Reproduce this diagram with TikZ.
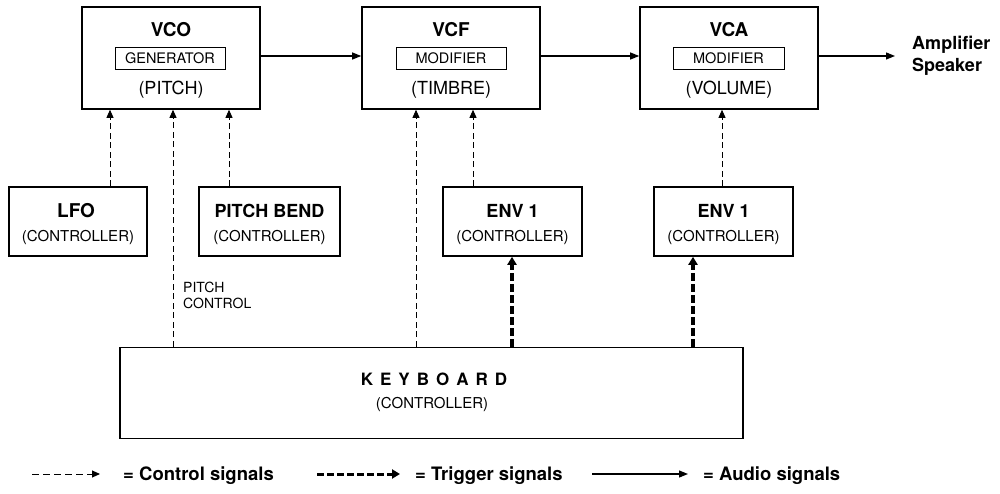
\documentclass[tikz,border=0pt]{standalone}
\usepackage{fontspec}
\setmainfont{TeX Gyre Heros}
\usetikzlibrary{arrows.meta}
\begin{document}
\begin{tikzpicture}[x=1pt,y=-1pt,
  bigbox/.style={draw, line width=1.6pt, minimum width=178pt, minimum height=102pt, inner sep=0},
  ibox/.style={draw, line width=0.8pt, minimum width=110pt, minimum height=22pt, inner sep=0, font=\fontsize{14.5}{16}\selectfont},
  ctlbox/.style={draw, line width=1.6pt, minimum height=69pt, inner sep=0},
  ttl/.style={inner sep=0, font=\bfseries\fontsize{19}{20}\selectfont},
  sub/.style={inner sep=0, font=\fontsize{18}{20}\selectfont},
  cname/.style={inner sep=0, font=\bfseries\fontsize{18}{20}\selectfont},
  csub/.style={inner sep=0, font=\fontsize{15}{17}\selectfont},
  ctrl/.style={line width=0.8pt, dash pattern=on 6pt off 3.5pt, -{Triangle[length=8pt,width=7pt]}},
  trig/.style={line width=3.5pt, dash pattern=on 8pt off 3pt, -{Triangle[length=8pt,width=9pt]}},
  audio/.style={line width=1.2pt, -{Triangle[length=9pt,width=7pt]}},
  leg/.style={inner sep=0, anchor=base west, font=\bfseries\fontsize{18.5}{20}\selectfont}
]
\useasboundingbox (0,0) rectangle (1000,494);

% --- top modules
\node[bigbox] (vco) at (171,58) {};
\node[ibox] (gen) at (170,58) {GENERATOR};
\node[ttl] (vcot) at (171,30) {VCO};
\node[sub] (vcos) at (171,90) {(PITCH)};

\node[bigbox] (vcf) at (451,58) {};
\node[ibox] (mod1) at (451,58) {MODIFIER};
\node[ttl] (vcft) at (451,30) {VCF};
\node[sub] (vcfs) at (451,90) {(TIMBRE)};

\node[bigbox] (vca) at (729,58) {};
\node[ibox, minimum width=111pt] (mod2) at (728.5,58) {MODIFIER};
\node[ttl] (vcat) at (729,30) {VCA};
\node[sub] (vcas) at (729,90) {(VOLUME)};

\coordinate (out) at (895,56);
\node[inner sep=0, anchor=west, align=left, font=\bfseries\fontsize{18}{22}\selectfont] (amp) at (912,56) {Amplifier\\Speaker};

% --- controllers
\node[ctlbox, minimum width=138pt] (lfo) at (78,221.5) {};
\node[cname, font=\bfseries\fontsize{19}{20}\selectfont] (lfot) at (76,211) {LFO};
\node[csub] (lfos) at (78,237) {(CONTROLLER)};

\node[ctlbox, minimum width=141pt] (pb) at (269.5,221.5) {};
\node[cname] (pbt) at (269.5,211) {PITCH BEND};
\node[csub] (pbs) at (269.5,237) {(CONTROLLER)};

\node[ctlbox, minimum width=139pt] (enva) at (512.5,221.5) {};
\node[cname] (envat) at (512.5,211) {ENV 1};
\node[csub] (envas) at (512.5,237) {(CONTROLLER)};

\node[ctlbox, minimum width=139pt] (envb) at (723.5,221.5) {};
\node[cname] (envbt) at (723.5,211) {ENV 1};
\node[csub] (envbs) at (723.5,237) {(CONTROLLER)};

% --- keyboard
\node[draw, line width=1.6pt, minimum width=623pt, minimum height=91pt, inner sep=0] (kb) at (431.5,393) {};
\node[cname, font=\bfseries\fontsize{17}{20}\selectfont] (kbt) at (434,379) {K\kern7pt E\kern7pt Y\kern7pt B\kern7pt O\kern7pt A\kern7pt R\kern7pt D};
\node[csub] (kbs) at (432,404) {(CONTROLLER)};

\node[inner sep=0, anchor=west, align=left, font=\fontsize{14}{16}\selectfont] (pc) at (183,295) {PITCH\\CONTROL};

% x positions of connectors
\coordinate (x110) at (110,0);
\coordinate (x173) at (173,0);
\coordinate (x229) at (229,0);
\coordinate (x416) at (416,0);
\coordinate (x473) at (473,0);
\coordinate (x722) at (722,0);
\coordinate (x512) at (512,0);
\coordinate (x693) at (693,0);
\coordinate (y56) at (0,56);

% --- audio path
\draw[audio] (vco.east |- y56) -- (vcf.west |- y56);
\draw[audio] (vcf.east |- y56) -- (vca.west |- y56);
\draw[audio] (vca.east |- y56) -- (out);

% --- control signals
\draw[ctrl] (lfo.north -| x110) -- (vco.south -| x110);
\draw[ctrl] (kb.north -| x173) -- (vco.south -| x173);
\draw[ctrl] (pb.north -| x229) -- (vco.south -| x229);
\draw[ctrl] (kb.north -| x416) -- (vcf.south -| x416);
\draw[ctrl] (enva.north -| x473) -- (vcf.south -| x473);
\draw[ctrl] (envb.north -| x722) -- (vca.south -| x722);

% --- trigger signals
\draw[trig] (kb.north -| x512) -- (enva.south -| x512);
\draw[trig] (kb.north -| x693) -- (envb.south -| x693);

% --- legend
\coordinate (l1a) at (32,474);
\coordinate (l1b) at (100,474);
\coordinate (l2a) at (317,474);
\coordinate (l2b) at (400,474);
\coordinate (l3a) at (592,474);
\coordinate (l3b) at (688,474);
\draw[ctrl, line width=1pt, dash pattern=on 7pt off 4pt] (l1a) -- (l1b);
\draw[trig, line width=3pt, dash pattern=on 7pt off 3pt] (l2a) -- (l2b);
\draw[audio] (l3a) -- (l3b);
\node[leg] (lt1) at (123,480) {= Control signals};
\node[leg] (lt2) at (415,480) {= Trigger signals};
\node[leg] (lt3) at (703,480) {= Audio signals};
\end{tikzpicture}
\end{document}
